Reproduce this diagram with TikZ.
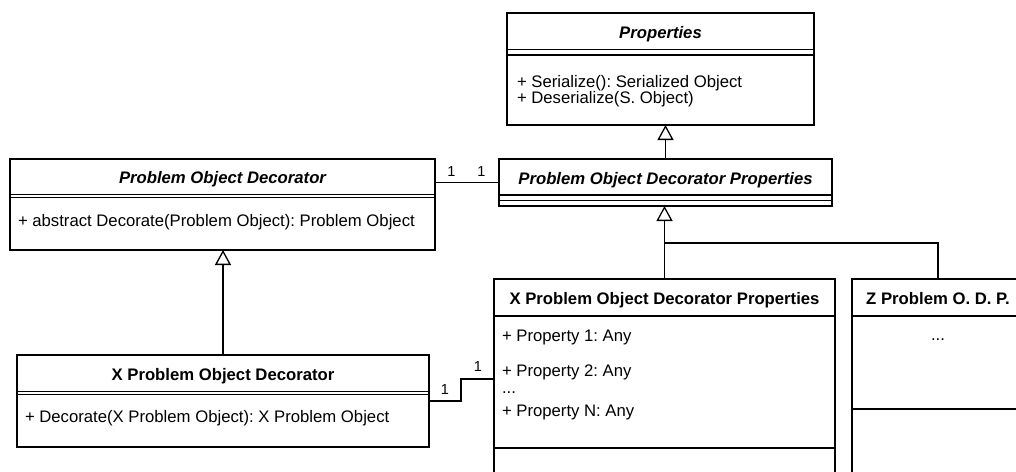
\documentclass[tikz,border=0pt]{standalone}
\usepackage{fontspec}
\setmainfont{Liberation Sans}
\usetikzlibrary{arrows.meta}
\frenchspacing
\begin{document}
\begin{tikzpicture}[x=1pt,y=-1pt,
  every node/.style={font=\fontsize{16.7}{20}\selectfont, inner sep=0pt, outer sep=0pt},
  comp/.style={draw, line width=1.3pt, anchor=north west},
  abstitle/.style={font=\fontsize{16.7}{20}\selectfont\bfseries\itshape, text height=14pt, text depth=0pt},
  clstitle/.style={font=\fontsize{16.7}{20}\selectfont\bfseries, text height=14pt, text depth=0pt},
  member/.style={anchor=west, yshift=-2pt},
  wire/.style={line width=1.3pt},
  inherit/.style={line width=1.3pt, -{Triangle[open, length=15pt, width=16pt]}},
  mult/.style={font=\fontsize{14.5}{16}\selectfont}
]
\useasboundingbox (0,0) rectangle (1016,471);
\clip (0,0) rectangle (1016,471);

% Properties (abstract)
\node[comp, abstitle, minimum width=307pt, minimum height=36.3pt] (prop-title) at (507,13) {Properties};
\node[comp, minimum width=307pt, minimum height=5.7pt] (prop-sep) at (507,49.3) {};
\node[comp, minimum width=307pt, minimum height=70pt] (prop-body) at (507,55) {};
\node[member] (prop-m1) at (517,81) {+ Serialize(): Serialized Object};
\node[member] (prop-m2) at (517,97) {+ Deserialize(S. Object)};

% Problem Object Decorator Properties (abstract)
\node[comp, abstitle, minimum width=333pt, minimum height=36pt] (podp-title) at (499,159) {Problem Object Decorator Properties};
\node[comp, minimum width=333pt, minimum height=5.7pt] (podp-sep1) at (499,195) {};
\node[comp, minimum width=333pt, minimum height=5.3pt] (podp-sep2) at (499,200.7) {};

% Problem Object Decorator (abstract)
\node[comp, abstitle, minimum width=425pt, minimum height=35.5pt] (pod-title) at (10,159) {Problem Object Decorator};
\node[comp, minimum width=425pt, minimum height=3pt] (pod-sep) at (10,194.5) {};
\node[comp, minimum width=425pt, minimum height=52.5pt] (pod-body) at (10,197.5) {};
\node[member] (pod-m1) at (18,220) {+ abstract Decorate(Problem Object): Problem Object};

% X Problem Object Decorator
\node[comp, clstitle, minimum width=412pt, minimum height=36.7pt] (xpod-title) at (17,355) {X Problem Object Decorator};
\node[comp, minimum width=412pt, minimum height=2.7pt] (xpod-sep) at (17,391.7) {};
\node[comp, minimum width=412pt, minimum height=52.6pt] (xpod-body) at (17,394.4) {};
\node[member] (xpod-m1) at (25,416) {+ Decorate(X Problem Object): X Problem Object};

% X Problem Object Decorator Properties
\node[comp, clstitle, minimum width=341pt, minimum height=37pt] (xpodp-title) at (494,279) {X Problem Object Decorator Properties};
\node[comp, minimum width=341pt, minimum height=132pt] (xpodp-attr) at (494,316) {};
\node[comp, minimum width=341pt, minimum height=80pt] (xpodp-ops) at (494,448) {};
\node[member] (xpodp-a1) at (502,335) {+ Property 1: Any};
\node[member] (xpodp-a2) at (502,370) {+ Property 2: Any};
\node[anchor=west] (xpodp-dots) at (502,393) {...};
\node[member] (xpodp-an) at (502,410) {+ Property N: Any};

% Z Problem O. D. P.
\node[comp, clstitle, minimum width=172pt, minimum height=37pt] (zpodp-title) at (852,279) {Z Problem O. D. P.};
\node[comp, minimum width=172pt, minimum height=93pt] (zpodp-attr) at (852,316) {};
\node[comp, minimum width=172pt, minimum height=80pt] (zpodp-ops) at (852,409) {};
\node (zpodp-dots) at (938,340) {...};

% Generalisations
\draw[inherit] (podp-title.north) -- (podp-title.north |- prop-body.south);
\draw[inherit] (xpod-title.north) -- (xpod-title.north |- pod-body.south);
\coordinate (branch) at (665,243);
\draw[inherit] (xpodp-title.north) -- (xpodp-title.north |- podp-sep2.south);
\draw[wire] (zpodp-title.north) |- (branch);

% Associations
\coordinate (podp-mid) at (499,182.5);
\draw[wire] (podp-mid -| pod-title.east) -- (podp-mid);
\node[mult] (m-pod) at (451.5,172) {1};
\node[mult] (m-podp) at (481.5,172) {1};

\coordinate (xpod-mid) at (429,401);
\coordinate (xpodp-in) at (494,379);
\draw[wire] (xpod-mid) -- (461,401) |- (xpodp-in);
\node[mult] (m-xpod) at (445,390) {1};
\node[mult] (m-xpodp) at (478,367) {1};
\end{tikzpicture}
\end{document}
